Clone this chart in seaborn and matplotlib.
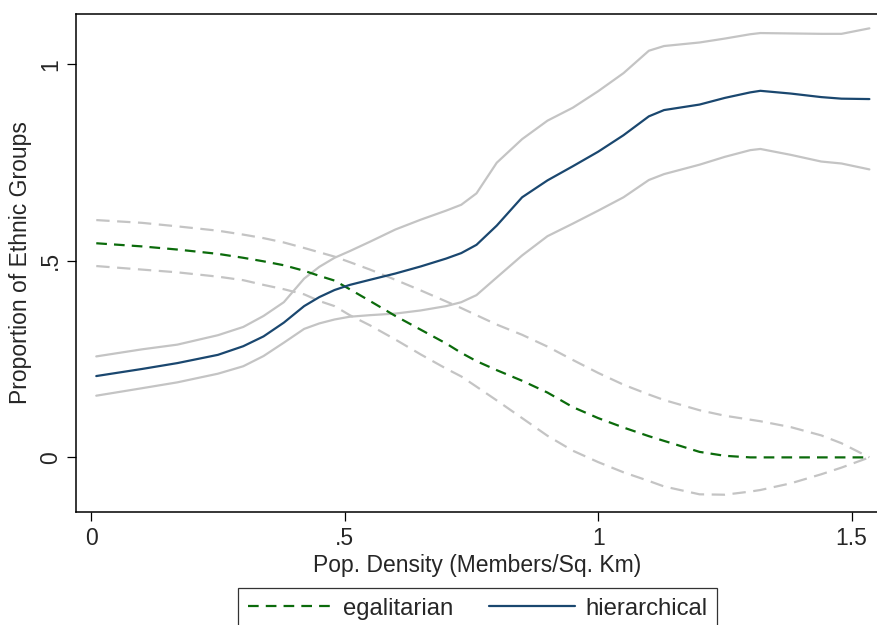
import matplotlib
matplotlib.use("Agg")
import matplotlib.pyplot as plt
import seaborn as sns
import numpy as np

# population density grid (members / sq. km)
density = [0.01, 0.10, 0.17, 0.25, 0.30, 0.34, 0.38, 0.42, 0.45, 0.48, 0.51,
           0.55, 0.60, 0.65, 0.70, 0.73, 0.76, 0.80, 0.85, 0.90, 0.95, 1.00,
           1.05, 1.10, 1.13, 1.20, 1.25, 1.30, 1.32, 1.38, 1.44, 1.48, 1.535]

hier = [0.207, 0.225, 0.240, 0.261, 0.283, 0.308, 0.343, 0.385, 0.408, 0.426, 0.439,
        0.452, 0.468, 0.486, 0.506, 0.520, 0.541, 0.590, 0.662, 0.705, 0.741, 0.778,
        0.820, 0.868, 0.884, 0.898, 0.915, 0.929, 0.933, 0.926, 0.917, 0.913, 0.912]
hier_hi = [0.257, 0.275, 0.287, 0.311, 0.332, 0.360, 0.395, 0.455, 0.485, 0.508, 0.525,
           0.549, 0.580, 0.605, 0.628, 0.643, 0.672, 0.750, 0.810, 0.857, 0.890, 0.932,
           0.978, 1.035, 1.047, 1.056, 1.066, 1.077, 1.080, 1.079, 1.078, 1.078, 1.092]
hier_lo = [0.157, 0.176, 0.191, 0.213, 0.232, 0.258, 0.292, 0.327, 0.341, 0.351, 0.358,
           0.362, 0.366, 0.374, 0.385, 0.395, 0.413, 0.458, 0.514, 0.563, 0.595, 0.628,
           0.662, 0.706, 0.721, 0.745, 0.765, 0.782, 0.785, 0.770, 0.753, 0.748, 0.733]

egal = [0.545, 0.537, 0.529, 0.518, 0.508, 0.499, 0.489, 0.475, 0.462, 0.450, 0.428,
        0.398, 0.360, 0.325, 0.290, 0.266, 0.245, 0.222, 0.195, 0.165, 0.128, 0.100,
        0.076, 0.054, 0.042, 0.014, 0.004, 0.000, 0.000, 0.000, 0.000, 0.000, 0.000]
egal_hi = [0.604, 0.597, 0.588, 0.577, 0.567, 0.558, 0.547, 0.533, 0.522, 0.511, 0.497,
           0.478, 0.452, 0.425, 0.397, 0.380, 0.362, 0.338, 0.312, 0.282, 0.248, 0.215,
           0.185, 0.160, 0.146, 0.120, 0.106, 0.096, 0.092, 0.077, 0.056, 0.036, 0.000]
egal_lo = [0.487, 0.478, 0.471, 0.460, 0.451, 0.439, 0.428, 0.415, 0.398, 0.385, 0.362,
           0.336, 0.300, 0.262, 0.226, 0.206, 0.180, 0.145, 0.100, 0.055, 0.017, -0.012,
           -0.038, -0.060, -0.074, -0.094, -0.095, -0.087, -0.083, -0.066, -0.043, -0.026, 0.000]

xticks = [0, 0.5, 1, 1.5]
xticklabels = ["0", ".5", "1", "1.5"]
yticks = [0, 0.5, 1]
yticklabels = ["0", ".5", "1"]

sns.set_style("ticks")
plt.rcParams['font.family'] = ['Liberation Sans', 'DejaVu Sans']

GREEN = "#0b6b0b"
NAVY = "#1a476f"
GRAY = "#c4c4c4"
FS = 16.5

fig = plt.figure(figsize=(8.78, 6.25), dpi=100)
ax = fig.add_axes([76.5 / 878, 1 - 512 / 625, (878 - 76.5) / 878, (512 - 14) / 625])

# confidence bands first, then the fitted lines
for band in (egal_hi, egal_lo):
    sns.lineplot(x=density, y=band, ax=ax, color=GRAY, linewidth=1.6,
                 linestyle=(0, (6, 3.4)))
for band in (hier_hi, hier_lo):
    sns.lineplot(x=density, y=band, ax=ax, color=GRAY, linewidth=1.6)

sns.lineplot(x=density, y=egal, ax=ax, color=GREEN, linewidth=1.6,
             linestyle=(0, (4.8, 3.2)), label="egalitarian")
sns.lineplot(x=density, y=hier, ax=ax, color=NAVY, linewidth=1.6,
             label="hierarchical")

ax.set_xlim(-0.029, 1.552)
ax.set_ylim(-0.139, 1.1285)
ax.set_xticks(xticks)
ax.set_xticklabels(xticklabels, fontsize=FS)
ax.set_yticks(yticks)
ax.set_yticklabels(yticklabels, fontsize=FS, rotation=90, va="center")
ax.tick_params(direction="out", length=6.5, width=0.9, color="black", pad=4)

ax.set_xlabel("Pop. Density (Members/Sq. Km)", fontsize=FS, labelpad=3)
ax.set_ylabel("Proportion of Ethnic Groups", fontsize=FS, labelpad=5)

for side in ("left", "top", "bottom"):
    ax.spines[side].set_color("black")
    ax.spines[side].set_linewidth(1.1)
ax.spines["right"].set_visible(False)

ax.legend(loc="upper center", bbox_to_anchor=(477.5 / 878, 1 - 588 / 625),
          bbox_transform=fig.transFigure, ncol=2, fontsize=17.2,
          frameon=True, fancybox=False, edgecolor="black",
          handlelength=3.6, handletextpad=0.4, columnspacing=1.5,
          borderpad=0.4, borderaxespad=0)
ax.get_legend().get_frame().set_linewidth(0.9)

fig.savefig("out.png", dpi=100)
